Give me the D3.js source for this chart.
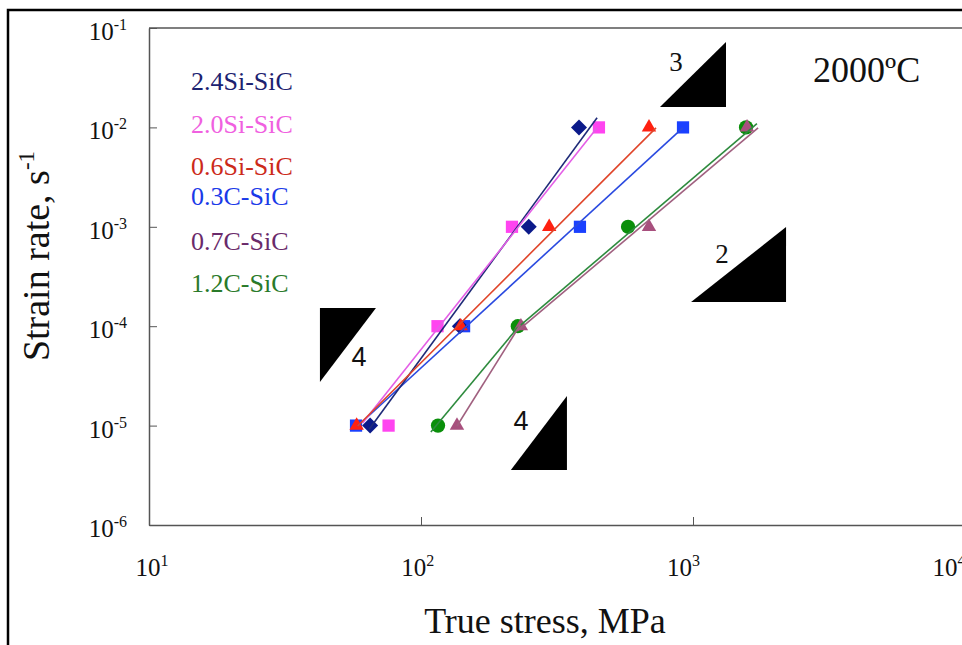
<!DOCTYPE html>
<html>
<head>
<meta charset="utf-8">
<script src="https://cdn.jsdelivr.net/npm/d3@7/dist/d3.min.js"></script>
<style>
  html, body { margin: 0; padding: 0; background: #fff; }
  svg { display: block; }
  text { font-family: "Liberation Serif", "Times New Roman", serif; }
</style>
</head>
<body>
<svg id="chart" width="962" height="645"></svg>
<script>
// ---------------- DATA ----------------
const seriesNames = ["2.4Si-SiC", "2.0Si-SiC", "0.6Si-SiC", "0.3C-SiC", "0.7C-SiC", "1.2C-SiC"];
const strainRates = [1e-5, 1e-4, 1e-3, 1e-2];            // s^-1
const stress24Si = [65, 139, 249, 381];                    // MPa
const stress20Si = [76, 115, 216, 451];
const stress06Si = [58, 140, 296, 689];
const stress03C  = [57.7, 144, 384, 919];
const stress07C  = [135.6, 233, 689, 1580];
const stress12C  = [115.5, 227, 577, 1567];

// trend lines: [stress, rate] end points
const fit24Si = [[[64.5, 9.2e-6], [444, 1.25e-2]]];
const fit20Si = [[[61, 1.06e-5], [444, 9.9e-3]]];
const fit06Si = [[[58.5, 9.9e-6], [731, 9.9e-3]]];
const fit03C  = [[[58.5, 9.9e-6], [917, 9.9e-3]]];
const fit07C  = [[[135.6, 9.9e-6], [232, 1.04e-4]], [[226, 8.9e-5], [1735, 9.9e-3]]];
const fit12C  = [[[108.7, 8.6e-6], [227, 9.7e-5]], [[219, 8.9e-5], [1718, 1.09e-2]]];

const xTickValues = [10, 100, 1000, 10000];
const xTickExps = ["1", "2", "3", "4"];
const yTickValues = [1e-1, 1e-2, 1e-3, 1e-4, 1e-5, 1e-6];
const yTickExps = ["-1", "-2", "-3", "-4", "-5", "-6"];

// slope triangles (vertices in stress / rate) and their labels
const slopeTriangles = [
  [[756, 1.60e-2], [1322, 7.23e-2], [1322, 1.60e-2]],
  [[984, 1.75e-4], [2198, 9.95e-4], [2198, 1.75e-4]],
  [[214, 3.57e-6], [344, 1.99e-5], [344, 3.57e-6]],
  [[42.5, 1.52e-4], [68.3, 1.52e-4], [42.5, 2.75e-5]]
];
const slopeLabels = ["3", "2", "4", "4"];
const slopeLabelPos = [[866, 4.55e-2], [1279, 5.33e-4], [233, 1.11e-5], [59.2, 4.9e-5]];
const tempLabel = "2000ºC";
const tempLabelPos = [2761, 2.86e-2];

// ---------------- STYLE ----------------
const series = [
  { name: seriesNames[0], stress: stress24Si, fit: fit24Si, shape: "diamond",  marker: "#0b1a8a", line: "#1e2a78", text: "#1c2270" },
  { name: seriesNames[1], stress: stress20Si, fit: fit20Si, shape: "square",   marker: "#ff44f0", line: "#e45ee6", text: "#f060e0" },
  { name: seriesNames[2], stress: stress06Si, fit: fit06Si, shape: "triangle", marker: "#ff2010", line: "#e0452a", text: "#cc2a1a" },
  { name: seriesNames[3], stress: stress03C,  fit: fit03C,  shape: "square",   marker: "#1a40ff", line: "#2a4ae0", text: "#1a3ae8" },
  { name: seriesNames[4], stress: stress07C,  fit: fit07C,  shape: "triangle", marker: "#a8507e", line: "#a0607f", text: "#6a2a6a" },
  { name: seriesNames[5], stress: stress12C,  fit: fit12C,  shape: "circle",   marker: "#0a8f0a", line: "#2e8b3e", text: "#2a7a2a" }
];
const drawOrder = [3, 5, 0, 1, 4, 2];
const legendBaselines = [90, 133, 175, 205, 250, 292];

const svg = d3.select("#chart");
const x = d3.scaleLog().domain([10, 10000]).range([149, 965]);
const y = d3.scaleLog().domain([1e-6, 1e-1]).range([525, 28]);

// outer frame
svg.append("rect").attr("x", 8).attr("y", 10).attr("width", 980).attr("height", 660)
  .attr("fill", "none").attr("stroke", "#000").attr("stroke-width", 2.5);

// plot box top / right
svg.append("line").attr("x1", x(10)).attr("x2", x(10000)).attr("y1", y(1e-1)).attr("y2", y(1e-1))
  .attr("stroke", "#555").attr("stroke-width", 1.5);
svg.append("line").attr("x1", x(10000)).attr("x2", x(10000)).attr("y1", y(1e-1)).attr("y2", y(1e-6))
  .attr("stroke", "#555").attr("stroke-width", 1.5);

// axes
const gx = svg.append("g").attr("transform", `translate(0,${y(1e-6)})`)
  .call(d3.axisBottom(x).tickValues(xTickValues).tickSizeInner(-8).tickSizeOuter(0).tickFormat(() => ""));
const gy = svg.append("g").attr("transform", `translate(${x(10)},0)`)
  .call(d3.axisLeft(y).tickValues(yTickValues).tickSizeInner(-8).tickSizeOuter(0).tickFormat(() => ""));
[gx, gy].forEach(g => {
  g.select(".domain").attr("stroke", "#555").attr("stroke-width", 1.5);
  g.selectAll(".tick line").attr("stroke", "#555").attr("stroke-width", 1);
});

// x tick labels
xTickValues.forEach((v, i) => {
  const t = svg.append("text").attr("x", x(v) + 3 - 6.3 * i).attr("y", 576)
    .attr("text-anchor", "middle").attr("font-size", 25).attr("fill", "#111");
  t.append("tspan").text("10");
  t.append("tspan").attr("font-size", 16).attr("dy", -10).text(xTickExps[i]);
});
// y tick labels
yTickValues.forEach((v, i) => {
  const t = svg.append("text").attr("x", 127).attr("y", y(v) + 12)
    .attr("text-anchor", "end").attr("font-size", 25).attr("fill", "#111");
  t.append("tspan").text("10");
  t.append("tspan").attr("font-size", 16).attr("dy", -10).text(yTickExps[i]);
});

// axis titles
svg.append("text").attr("x", 545).attr("y", 633).attr("text-anchor", "middle")
  .attr("font-size", 36).attr("fill", "#111").text("True stress, MPa");
const yt = svg.append("text").attr("transform", "translate(49,256) rotate(-90)")
  .attr("text-anchor", "middle").attr("font-size", 38).attr("fill", "#111");
yt.append("tspan").text("Strain rate, s");
yt.append("tspan").attr("font-size", 23).attr("dy", -15).text("-1");

// slope triangles
svg.append("g").selectAll("path").data(slopeTriangles).join("path")
  .attr("d", d => "M" + d.map(p => [x(p[0]), y(p[1])].join(",")).join("L") + "Z")
  .attr("fill", "#000");
svg.append("g").selectAll("text").data(slopeLabels).join("text")
  .attr("x", (d, i) => x(slopeLabelPos[i][0])).attr("y", (d, i) => y(slopeLabelPos[i][1]))
  .attr("text-anchor", "middle").attr("dominant-baseline", "central")
  .attr("font-size", 27)
  .style("font-family", d => d === "4" ? "'Liberation Sans', Arial, sans-serif" : null)
  .attr("fill", "#111").text(d => d);

svg.append("text").attr("x", x(tempLabelPos[0])).attr("y", y(tempLabelPos[1]))
  .attr("font-size", 36).attr("fill", "#111").text(tempLabel);

// markers
const symType = { diamond: d3.symbolSquare, square: d3.symbolSquare, triangle: d3.symbolTriangle, circle: d3.symbolCircle };
const symSize = { diamond: 128, square: 150, triangle: 90, circle: 160 };
const markG = svg.append("g");
const lineG = svg.append("g");
drawOrder.forEach(si => {
  const s = series[si];
  markG.append("g").selectAll("path").data(strainRates).join("path")
    .attr("d", d3.symbol().type(symType[s.shape]).size(symSize[s.shape]))
    .attr("transform", (r, i) => `translate(${x(s.stress[i])},${y(r)})` + (s.shape === "diamond" ? " rotate(45)" : ""))
    .attr("fill", s.marker);
});
drawOrder.forEach(si => {
  const s = series[si];
  lineG.append("g").selectAll("line").data(s.fit).join("line")
    .attr("x1", d => x(d[0][0])).attr("y1", d => y(d[0][1]))
    .attr("x2", d => x(d[1][0])).attr("y2", d => y(d[1][1]))
    .attr("stroke", s.line).attr("stroke-width", 1.6);
});

// legend (text only)
svg.append("g").selectAll("text").data(series).join("text")
  .attr("x", 191).attr("y", (d, i) => legendBaselines[i])
  .attr("font-size", 26).attr("fill", d => d.text).text(d => d.name);
</script>
</body>
</html>
